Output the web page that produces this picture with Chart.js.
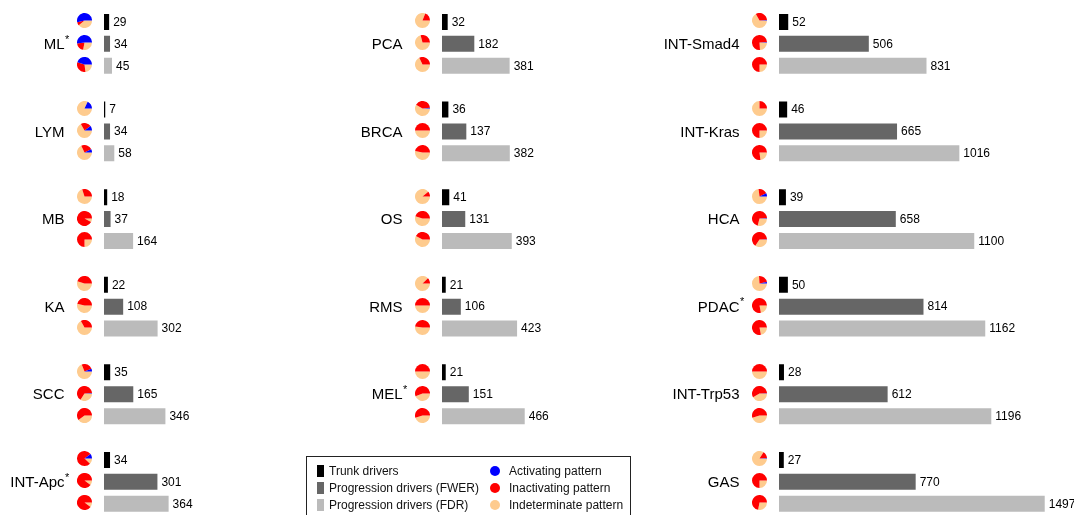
<!DOCTYPE html>
<html>
<head>
<meta charset="utf-8">
<script src="https://cdn.jsdelivr.net/npm/chart.js@4.4.1/dist/chart.umd.min.js"></script>
<style>
html,body{margin:0;padding:0;background:#fff;overflow:hidden;}
#wrap{position:relative;width:1074px;height:515px;overflow:hidden;font-family:"Liberation Sans",Arial,sans-serif;}
.bc{position:absolute;left:0;top:0;}
.pie{position:absolute;}
#legendBox{position:absolute;left:306px;top:456px;width:325px;height:80px;border:1px solid #222;box-sizing:border-box;}
.lt{position:absolute;font-size:12px;line-height:14px;color:#111;white-space:nowrap;}
.sq{position:absolute;width:7px;height:12px;}
.dot{position:absolute;width:10px;height:10px;border-radius:50%;}
</style>
</head>
<body>
<div id="wrap">
  <canvas id="c1" class="bc" width="1074" height="530"></canvas>
  <canvas id="c2" class="bc" width="1074" height="530"></canvas>
  <canvas id="c3" class="bc" width="1074" height="530"></canvas>
  <div id="legendBox"></div>
  <div class="sq" style="left:317px;top:465px;background:#000"></div>
  <div class="lt" style="left:329px;top:464px">Trunk drivers</div>
  <div class="sq" style="left:317px;top:482px;background:#666"></div>
  <div class="lt" style="left:329px;top:481px">Progression drivers (FWER)</div>
  <div class="sq" style="left:317px;top:499px;background:#bbb"></div>
  <div class="lt" style="left:329px;top:498px">Progression drivers (FDR)</div>
  <div class="dot" style="left:490px;top:466px;background:#0000ff"></div>
  <div class="lt" style="left:509px;top:464px">Activating pattern</div>
  <div class="dot" style="left:490px;top:483px;background:#ff0000"></div>
  <div class="lt" style="left:509px;top:481px">Inactivating pattern</div>
  <div class="dot" style="left:490px;top:500px;background:#fecb8e"></div>
  <div class="lt" style="left:509px;top:498px">Indeterminate pattern</div>
</div>
<script>
// ---------- data ----------
const groups1 = ['ML','LYM','MB','KA','SCC','INT-Apc'];
const starred1 = ['ML','INT-Apc'];
const trunk1 = [29, 7, 18, 22, 35, 34];
const fwer1  = [34, 34, 37, 108, 165, 301];
const fdr1   = [45, 58, 164, 302, 346, 364];
// pattern fractions per group: [trunk, FWER, FDR]
const act1   = [[0.54,0.52,0.45],[0.18,0.10,0.07],[0,0,0],[0,0,0],[0.06,0.01,0],[0.10,0,0]];
const inact1 = [[0.07,0.20,0.32],[0,0.23,0.25],[0.30,0.92,0.75],[0.45,0.46,0.33],[0.25,0.65,0.60],[0.78,0.90,0.90]];

const groups2 = ['PCA','BRCA','OS','RMS','MEL'];
const starred2 = ['MEL'];
const trunk2 = [32, 36, 41, 21, 21];
const fwer2  = [182, 137, 131, 106, 151];
const fdr2   = [381, 382, 393, 423, 466];
const act2   = [[0,0,0],[0.015,0,0],[0,0,0],[0,0,0],[0,0,0]];
const inact2 = [[0.19,0.29,0.32],[0.40,0.50,0.47],[0.11,0.45,0.42],[0.12,0.50,0.48],[0.50,0.56,0.55]];

const groups3 = ['INT-Smad4','INT-Kras','HCA','PDAC','INT-Trp53','GAS'];
const starred3 = ['PDAC'];
const trunk3 = [52, 46, 39, 50, 28, 27];
const fwer3  = [506, 665, 658, 814, 612, 770];
const fdr3   = [831, 1016, 1100, 1162, 1196, 1497];
const act3   = [[0.01,0.01,0],[0,0,0],[0.07,0.01,0.005],[0.03,0,0],[0,0.005,0],[0.01,0,0]];
const inact3 = [[0.32,0.75,0.75],[0.25,0.75,0.77],[0.20,0.70,0.65],[0.23,0.78,0.78],[0.50,0.58,0.55],[0.15,0.75,0.72]];

const barLevels = ['Trunk drivers','Progression drivers (FWER)','Progression drivers (FDR)'];
const patterns = ['Indeterminate pattern','Inactivating pattern','Activating pattern'];

// ---------- styles / layout ----------
const BAR_COLORS = ['#000000','#666666','#bbbbbb'];
const PIE_COLORS = ['#fecb8e','#ff0000','#0000ff'];
const FONT = '"Liberation Sans", Arial, sans-serif';
const COL_X = [104, 442, 779];
const PLOT_W = 270;
const XMAX = 270 / 0.1775;
const SLOTS = 23;
const CANVAS_W = 1074;

const columns = [
  {groups:groups1, starred:starred1, trunk:trunk1, fwer:fwer1, fdr:fdr1, act:act1, inact:inact1},
  {groups:groups2, starred:starred2, trunk:trunk2, fwer:fwer2, fdr:fdr2, act:act2, inact:inact2},
  {groups:groups3, starred:starred3, trunk:trunk3, fwer:fwer3, fdr:fdr3, act:act3, inact:inact3}
];

const valueLabels = {
  id:'valueLabels',
  afterDatasetsDraw(chart){
    const ctx = chart.ctx, meta = chart.getDatasetMeta(0), data = chart.data.datasets[0].data;
    ctx.save();
    ctx.font = '12px ' + FONT;
    ctx.fillStyle = '#000';
    ctx.textBaseline = 'middle';
    ctx.textAlign = 'left';
    meta.data.forEach((bar,i)=>{
      if (data[i] == null) return;
      ctx.fillText(String(data[i]), bar.x + 4, bar.y + 0.5);
    });
    ctx.restore();
  }
};

const groupLabels = {
  id:'groupLabels',
  afterDraw(chart, args, opts){
    const ctx = chart.ctx, y = chart.scales.y;
    const right = chart.chartArea.left - 39.5;
    ctx.save();
    ctx.fillStyle = '#000';
    opts.groups.forEach((g,k)=>{
      const py = y.getPixelForValue(k*4+1);
      const base = py + 5.2;
      ctx.font = '15px ' + FONT;
      ctx.textAlign = 'right';
      ctx.textBaseline = 'alphabetic';
      ctx.fillText(g, right, base);
      if (opts.starred.includes(g)) {
        ctx.font = '11px ' + FONT;
        ctx.textAlign = 'left';
        ctx.fillText('*', right + 0.5, base - 6.5);
      }
    });
    ctx.restore();
  }
};

const charts = columns.map((col, ci)=>{
  const labels = [], values = [], colors = [];
  col.groups.forEach((g,k)=>{
    labels.push(g + ' trunk', g + ' FWER', g + ' FDR');
    values.push(col.trunk[k], col.fwer[k], col.fdr[k]);
    colors.push(BAR_COLORS[0], BAR_COLORS[1], BAR_COLORS[2]);
    if (labels.length < SLOTS) { labels.push(''); values.push(null); colors.push('rgba(0,0,0,0)'); }
  });
  while (labels.length < SLOTS) { labels.push(''); values.push(null); colors.push('rgba(0,0,0,0)'); }
  const left = COL_X[ci];
  return new Chart(document.getElementById('c' + (ci+1)), {
    type:'bar',
    data:{labels, datasets:[{data:values, backgroundColor:colors, borderWidth:0, barPercentage:0.73, categoryPercentage:1}]},
    options:{
      indexAxis:'y', responsive:false, animation:false, events:[],
      layout:{padding:{left:left, right:CANVAS_W - left - PLOT_W, top:11, bottom:15.3}},
      scales:{x:{display:false, min:0, max:XMAX}, y:{display:false}},
      plugins:{legend:{display:false}, tooltip:{enabled:false},
               groupLabels:{groups:col.groups, starred:col.starred}}
    },
    plugins:[valueLabels, groupLabels]
  });
});

const wrap = document.getElementById('wrap');
charts.forEach((chart, ci)=>{
  const col = columns[ci];
  const y = chart.scales.y;
  const cx = chart.chartArea.left - 19.5;
  col.groups.forEach((g,k)=>{
    for (let r = 0; r < 3; r++) {
      const cy = y.getPixelForValue(k*4 + r) - 1;
      const a = col.act[k][r], i = col.inact[k][r];
      const cv = document.createElement('canvas');
      cv.className = 'pie';
      cv.width = 15; cv.height = 15;
      cv.style.left = (cx - 7.5) + 'px';
      cv.style.top = (cy - 7.5) + 'px';
      wrap.appendChild(cv);
      new Chart(cv, {
        type:'pie',
        data:{labels:patterns, datasets:[{data:[1 - a - i, i, a], backgroundColor:PIE_COLORS,
              borderWidth:0, hoverBorderWidth:0, hoverOffset:0, offset:0}]},
        options:{responsive:false, animation:false, events:[], rotation:90,
                 layout:{padding:0},
                 plugins:{legend:{display:false}, tooltip:{enabled:false}}}
      });
    }
  });
});
</script>
</body>
</html>
